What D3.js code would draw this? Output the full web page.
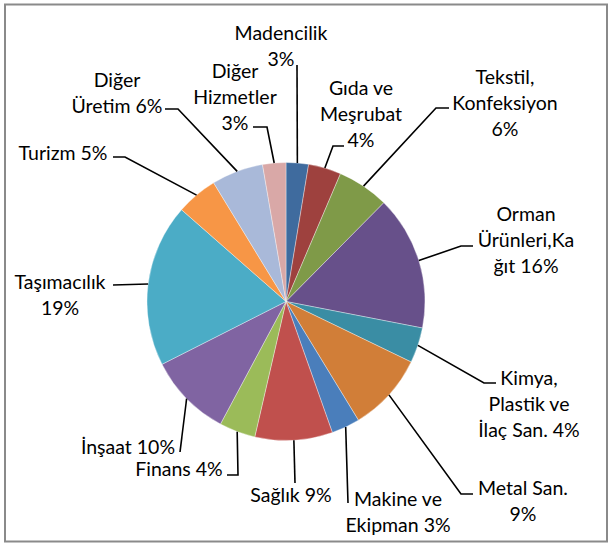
<!DOCTYPE html>
<html><head><meta charset="utf-8">
<script src="https://cdn.jsdelivr.net/npm/d3@7"></script>
<style>
html,body{margin:0;padding:0;background:#fff;}
svg{display:block;}
text{font-family:Lato,"Noto Sans",sans-serif;fill:#000;}
</style></head>
<body>
<script>
// ---- data ----
const categories = ["Madencilik","Gıda ve Meşrubat","Tekstil, Konfeksiyon","Orman Ürünleri,Kağıt","Kimya, Plastik ve İlaç San.","Metal San.","Makine ve Ekipman","Sağlık","Finans","İnşaat","Taşımacılık","Turizm","Diğer Üretim","Diğer Hizmetler"];
const values = [2.6,3.8,6.0,15.6,4.1,9.1,3.3,9.0,4.2,9.7,18.9,4.8,6.0,2.7];
const percentLabels = ["3%","4%","6%","16%","4%","9%","3%","9%","4%","10%","19%","5%","6%","3%"];
const labelLines = [
  ["Madencilik","3%"],
  ["Gıda ve","Meşrubat","4%"],
  ["Tekstil,","Konfeksiyon","6%"],
  ["Orman","Ürünleri,Ka","ğıt 16%"],
  ["Kimya,","Plastik ve","İlaç San. 4%"],
  ["Metal San.","9%"],
  ["Makine ve","Ekipman 3%"],
  ["Sağlık 9%"],
  ["Finans 4%"],
  ["İnşaat 10%"],
  ["Taşımacılık","19%"],
  ["Turizm 5%"],
  ["Diğer","Üretim 6%"],
  ["Diğer","Hizmetler","3%"]
];
const colors = ["#3F6B9E","#9E413E","#7F9A48","#67508A","#3A8DA4","#D17E38","#4A7EBB","#C0504D","#9BBB59","#8064A2","#4BACC6","#F79646","#A9B9D9","#D9A8A7"];

// ---- layout (label block centre / first-line centre, leader path points) ----
const labelLayout = [
  {x:281, y:33,  leg:[[297,65]]},
  {x:361, y:88,  leg:[[333,146],[344,146]]},
  {x:505, y:77,  leg:[[436,108],[449,108]]},
  {x:526, y:214, leg:[[461,246],[473,246]]},
  {x:529, y:378, leg:[[484,383],[496,383]]},
  {x:523, y:488, leg:[[461,494],[473,494]]},
  {x:398, y:499, leg:[[348,503]]},
  {x:291, y:495, leg:[[295,483]]},
  {x:179, y:469, leg:[[238,475],[227,475]]},
  {x:128, y:447, leg:[[180,452]]},
  {x:60,  y:282, leg:[[113,285]]},
  {x:63,  y:153, leg:[[125,157],[113,157]]},
  {x:117, y:80,  leg:[[178,109],[165,109]]},
  {x:235, y:71,  leg:[[267,127],[253,127]]}
];

const W=612, H=544, cx=286, cy=301.5, R=139, lineH=26;

const svg = d3.select("body").append("svg").attr("width",W).attr("height",H);
svg.append("rect").attr("x",0).attr("y",0).attr("width",W).attr("height",H).attr("fill","#fff");
svg.append("rect").attr("x",5).attr("y",4.5).attr("width",602).attr("height",537)
  .attr("fill","#fff").attr("stroke","#8a8a8a").attr("stroke-width",2);

const pie = d3.pie().sort(null).value(d=>d).startAngle(0).endAngle(2*Math.PI);
const arcs = pie(values);
const arc = d3.arc().innerRadius(0).outerRadius(R);
const g = svg.append("g").attr("transform",`translate(${cx},${cy})`);
g.selectAll("path").data(arcs).join("path")
  .attr("d",arc).attr("fill",(d,i)=>colors[i])
  .attr("stroke","#ffffff").attr("stroke-opacity",0.6).attr("stroke-width",0.6);

// leaders
const line = d3.line();
arcs.forEach((a,i)=>{
  const m=(a.startAngle+a.endAngle)/2;
  const p0=[cx+R*Math.sin(m), cy-R*Math.cos(m)];
  const pts=[p0].concat(labelLayout[i].leg);
  svg.append("path").attr("d",line(pts)).attr("fill","none")
    .attr("stroke","#000").attr("stroke-width",1.6);
});

// labels
const fs = 19.5;
labelLines.forEach((lines,i)=>{
  const L=labelLayout[i];
  const t=svg.append("text").attr("text-anchor","middle").attr("font-size",fs);
  lines.forEach((s,k)=>{
    t.append("tspan").attr("x",L.x).attr("y",L.y+k*lineH).attr("dy","0.35em").text(s);
  });
});
</script>
</body></html>
